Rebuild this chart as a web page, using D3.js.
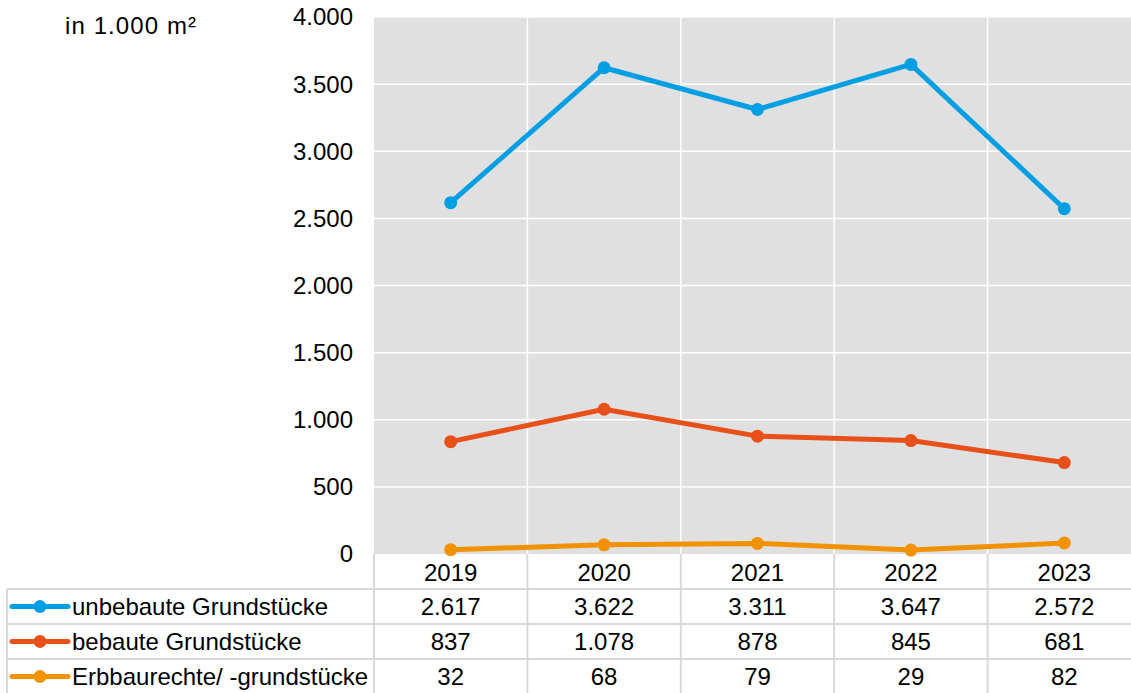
<!DOCTYPE html>
<html>
<head>
<meta charset="utf-8">
<script src="https://cdn.jsdelivr.net/npm/d3@7"></script>
<style>
  body { margin: 0; background: #fff; }
  svg text { font-family: "Liberation Sans", Arial, sans-serif; fill: #000; }
</style>
</head>
<body>
<div id="chart"></div>
<script>
const years = ['2019', '2020', '2021', '2022', '2023'];
const seriesNames = ['unbebaute Grundstücke', 'bebaute Grundstücke', 'Erbbaurechte/ -grundstücke'];
const unbebaut = [2617, 3622, 3311, 3647, 2572];
const bebaut = [837, 1078, 878, 845, 681];
const erbbau = [32, 68, 79, 29, 82];
const colors = ['#009fe3', '#e8501a', '#f39200'];
const yTicks = [0, 500, 1000, 1500, 2000, 2500, 3000, 3500, 4000];

const series = [unbebaut, bebaut, erbbau];
const fmt = v => d3.format(',')(v).replace(/,/g, '.');
const fs = 24;

const width = 1131, height = 693;
const margin = { left: 374, top: 17, right: -10, bottom: 139 };
const plotW = width - margin.left - margin.right;
const plotH = height - margin.top - margin.bottom;

const svg = d3.select('#chart').append('svg')
  .attr('width', width)
  .attr('height', height);

const x = d3.scaleBand().domain(years).range([0, plotW]);
const y = d3.scaleLinear().domain([0, 4000]).range([plotH, 0]);

const g = svg.append('g').attr('transform', `translate(${margin.left},${margin.top})`);

g.append('rect')
  .attr('width', plotW)
  .attr('height', plotH)
  .attr('fill', '#e0e0e0');

// horizontal grid
g.selectAll('.hgrid')
  .data(yTicks.slice(1))
  .enter().append('line')
  .attr('x1', 0).attr('x2', plotW)
  .attr('y1', d => y(d)).attr('y2', d => y(d))
  .attr('stroke', '#fff').attr('stroke-width', 1.5);

// vertical grid
g.selectAll('.vgrid')
  .data(years.slice(1))
  .enter().append('line')
  .attr('x1', d => x(d)).attr('x2', d => x(d))
  .attr('y1', 0).attr('y2', plotH)
  .attr('stroke', '#fff').attr('stroke-width', 1.5);

// y axis labels
g.selectAll('.ylab')
  .data(yTicks)
  .enter().append('text')
  .attr('x', -21)
  .attr('y', d => y(d))
  .attr('dy', '0.35em')
  .attr('text-anchor', 'end')
  .attr('font-size', fs)
  .text(fmt);

svg.append('text')
  .attr('x', 65).attr('y', 34)
  .attr('font-size', fs)
  .attr('letter-spacing', 1.1)
  .text('in 1.000 m²');

const line = d3.line()
  .x((d, i) => x(years[i]) + x.bandwidth() / 2)
  .y(d => y(d));

series.forEach((s, k) => {
  g.append('path')
    .datum(s)
    .attr('d', line)
    .attr('fill', 'none')
    .attr('stroke', colors[k])
    .attr('stroke-width', 5)
    .attr('stroke-linejoin', 'round');
  g.selectAll('.pt' + k)
    .data(s)
    .enter().append('circle')
    .attr('cx', (d, i) => x(years[i]) + x.bandwidth() / 2)
    .attr('cy', d => y(d))
    .attr('r', 6.5)
    .attr('fill', colors[k]);
});

// data table
const rowH = 35;
const tableTop = margin.top + plotH;
const grid = '#d9d9d9';
const t = svg.append('g');

// years row
t.selectAll('.yr')
  .data(years)
  .enter().append('text')
  .attr('x', d => margin.left + x(d) + x.bandwidth() / 2)
  .attr('y', tableTop + rowH / 2 + 1)
  .attr('dy', '0.35em')
  .attr('text-anchor', 'middle')
  .attr('font-size', fs)
  .text(d => d);

// horizontal table lines
[1, 2, 3, 4].forEach(r => {
  t.append('line')
    .attr('x1', 7).attr('x2', width)
    .attr('y1', tableTop + r * rowH).attr('y2', tableTop + r * rowH)
    .attr('stroke', grid).attr('stroke-width', 2);
});

// vertical table lines
t.append('line')
  .attr('x1', 7).attr('x2', 7)
  .attr('y1', tableTop + rowH).attr('y2', height)
  .attr('stroke', grid).attr('stroke-width', 2);
years.forEach(d => {
  t.append('line')
    .attr('x1', margin.left + x(d)).attr('x2', margin.left + x(d))
    .attr('y1', tableTop).attr('y2', height)
    .attr('stroke', grid).attr('stroke-width', 2);
});

series.forEach((s, k) => {
  const cy = tableTop + rowH * (k + 1) + rowH / 2;
  t.append('line')
    .attr('x1', 12).attr('x2', 68)
    .attr('y1', cy).attr('y2', cy)
    .attr('stroke', colors[k]).attr('stroke-width', 5)
    .attr('stroke-linecap', 'round');
  t.append('circle')
    .attr('cx', 40).attr('cy', cy).attr('r', 6.5)
    .attr('fill', colors[k]);
  t.append('text')
    .attr('x', 72).attr('y', cy)
    .attr('dy', '0.35em')
    .attr('font-size', fs)
    .text(seriesNames[k]);
  t.selectAll('.v' + k)
    .data(s)
    .enter().append('text')
    .attr('x', (d, i) => margin.left + x(years[i]) + x.bandwidth() / 2)
    .attr('y', cy)
    .attr('dy', '0.35em')
    .attr('text-anchor', 'middle')
    .attr('font-size', fs)
    .text(fmt);
});
</script>
</body>
</html>
